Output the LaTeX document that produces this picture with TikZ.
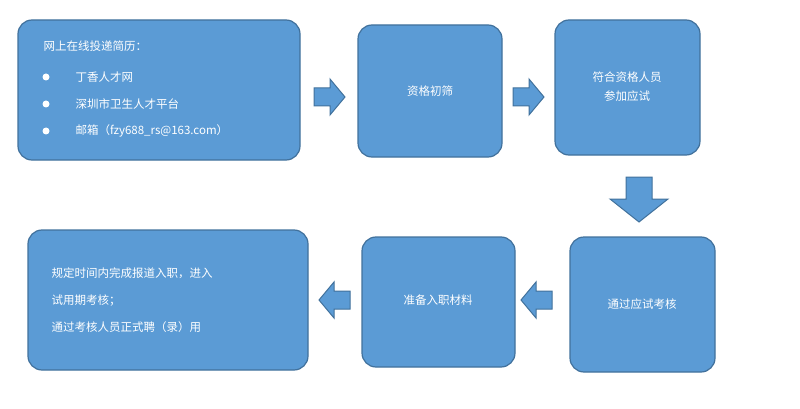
\documentclass[tikz,border=0pt]{standalone}
\usepackage{fontspec}
\setmainfont{Noto Sans CJK SC}
\definecolor{bfill}{HTML}{5B9BD5}
\definecolor{bdraw}{HTML}{41719C}
\begin{document}
\begin{tikzpicture}[x=1pt,y=-1pt,
  box/.style={draw=bdraw,fill=bfill,line width=1.2pt,rounded corners=14pt},
  arr/.style={draw=bdraw,fill=bfill,line width=1pt},
  txt/.style={text=white,font=\fontsize{11.5pt}{19pt}\selectfont,align=left}]
\useasboundingbox (0,0) rectangle (800,409);
\draw[box] (18,20) rectangle (300,160);
\draw[box] (358,25) rectangle (502,157);
\draw[box] (555,20) rectangle (700,155);
\draw[box] (570,237) rectangle (715,372);
\draw[box] (362,237) rectangle (515,367);
\draw[box] (28,230) rectangle (308,370);
% right arrows
\draw[arr] (314,88)--(330,88)--(330,79)--(345,97)--(330,115)--(330,106)--(314,106)--cycle;
\draw[arr] (513,88)--(529,88)--(529,79)--(544,97)--(529,115)--(529,106)--(513,106)--cycle;
% down arrow
\draw[arr] (626,177)--(652,177)--(652,199)--(668,199)--(639,222)--(610,199)--(626,199)--cycle;
% left arrows
\draw[arr] (552,291)--(536,291)--(536,282)--(521,300)--(536,318)--(536,309)--(552,309)--cycle;
\draw[arr] (350,291)--(334,291)--(334,282)--(319,300)--(334,318)--(334,309)--(350,309)--cycle;
\node[txt,anchor=west] (t1) at (40,46) {网上在线投递简历：};
\foreach \y/\s in {77/丁香人才网,104/深圳市卫生人才平台,131/邮箱（fzy688\_rs@163.com）}{
  \fill[white] (46,\y) circle (3.5pt);
  \node[txt,anchor=west] at (72,\y) {\s};
}
\node[txt] (t2) at (430,91) {资格初筛};
\node[txt,align=center] (t3) at (627,87) {符合资格人员\\参加应试};
\node[txt] (t4) at (642,304) {通过应试考核};
\node[txt] (t5) at (438,300) {准备入职材料};
\node[txt,anchor=west,font=\fontsize{11.5pt}{27pt}\selectfont] (t6) at (48,300) {规定时间内完成报道入职，进入\\试用期考核；\\通过考核人员正式聘（录）用};
\end{tikzpicture}
\end{document}
